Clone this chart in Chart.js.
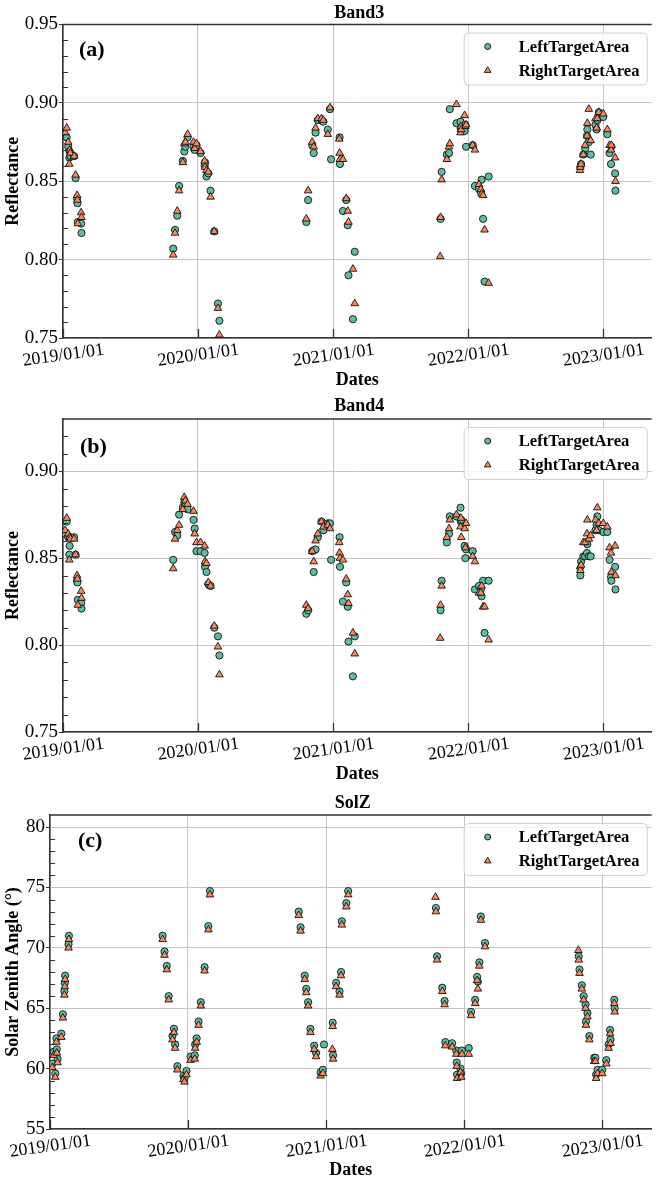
<!DOCTYPE html>
<html><head><meta charset="utf-8">
<script src="https://cdn.jsdelivr.net/npm/chart.js@4.4.1/dist/chart.umd.min.js"></script>
<style>
html,body{margin:0;padding:0;background:#fff;}
#wrap{position:relative;width:657px;height:1182px;overflow:hidden;background:#fff;}
canvas{position:absolute;left:0;}
</style></head><body><div id="wrap">
<canvas id="c1" width="657" height="392" style="top:0px"></canvas>
<canvas id="c2" width="657" height="394" style="top:392px"></canvas>
<canvas id="c3" width="657" height="396" style="top:786px"></canvas>
</div>
<script>
const FONT = '"Liberation Serif", "Times New Roman", serif';

const dates = [
 '2019-01-07','2019-01-11','2019-01-15','2019-01-18','2019-01-19','2019-01-21','2019-01-31','2019-02-04','2019-02-08','2019-02-09','2019-02-10','2019-02-19','2019-02-20',
 '2019-10-26','2019-10-31','2019-11-06','2019-11-11','2019-11-21','2019-11-25','2019-11-28','2019-12-04','2019-12-20','2019-12-23','2019-12-28','2020-01-08','2020-01-19','2020-01-20','2020-01-24','2020-01-29','2020-02-04','2020-02-14','2020-02-24','2020-02-28',
 '2020-10-20','2020-10-25','2020-11-05','2020-11-09','2020-11-14','2020-11-20','2020-11-30','2020-12-05','2020-12-17','2020-12-23','2020-12-26','2021-01-17','2021-01-18','2021-01-19','2021-01-27','2021-02-05','2021-02-09','2021-02-11','2021-02-23','2021-02-28',
 '2021-10-17','2021-10-18','2021-10-21','2021-11-04','2021-11-10','2021-11-12','2021-11-30','2021-12-11','2021-12-12','2021-12-13','2021-12-22','2021-12-24','2021-12-26','2022-01-13','2022-01-19','2022-01-30','2022-02-04','2022-02-06','2022-02-10','2022-02-14','2022-02-25',
 '2022-10-30','2022-10-31','2022-11-02','2022-11-08','2022-11-13','2022-11-18','2022-11-19','2022-11-23','2022-11-28','2022-12-11','2022-12-14','2022-12-16','2022-12-20','2023-01-01','2023-01-12','2023-01-18','2023-01-22','2023-01-23','2023-02-02','2023-02-03'
];

const band3Left = [
 .879,.878,.872,.865,.869,.866,.866,.852,.839,.836,.824,.823,.817,
 .807,.819,.828,.847,.863,.869,.872,.878,.872,.870,.873,.868,.860,.862,.853,.855,.844,.818,.772,.761,
 .824,.838,.873,.868,.881,.889,.889,.888,.883,.896,.864,null,.878,.861,.831,.838,.822,.790,.762,.805,
 null,.826,.856,.867,.868,.896,.887,.888,.884,.882,.882,.886,.872,.873,.847,.845,.843,.851,.826,.786,.853,
 null,.859,.861,.867,.871,.879,.883,.875,.867,.886,.883,.889,.894,.891,.880,.868,.861,.872,.855,.844
];
const band3Right = [
 .881,.884,.875,.861,.870,.868,.866,.854,.841,.838,.823,.830,.827,
 .803,.817,.831,.844,.862,.874,.875,.880,.875,.871,.874,.869,.863,.859,.857,.856,.840,.818,.769,.752,
 .826,.844,.875,.872,.884,.890,.890,.889,.880,.897,null,.877,.868,.864,.864,.839,.831,.824,.794,.772,
 .802,.827,.851,.864,.872,.874,.899,.881,.885,.883,.892,.885,.886,.873,.870,.848,.845,.842,.841,.819,.785,
 .857,.859,.861,.867,.873,.879,.887,.896,.876,.890,.884,.890,.894,.893,.883,.873,.870,.873,.865,.850
];
const band4Left = [
 .864,.871,.862,.852,.857,.862,.862,.852,.837,.836,.826,.824,.821,
 .849,.865,.863,.875,.879,.882,.880,.878,.872,.867,.854,.854,.853,.845,.842,.835,.834,.810,.805,.794,
 .818,.820,.854,.842,.855,.862,.871,.866,.870,.870,.849,null,.862,.845,.825,.836,.822,.802,.782,.805,
 null,.820,.837,.859,.864,.874,.874,.879,.871,.872,.857,.850,.855,.854,.832,.834,.832,.828,.837,.807,.837,
 null,.840,.848,.851,.851,.853,.858,.851,.851,.866,.869,.874,.866,.865,.865,.849,.839,.837,.845,.832
];
const band4Right = [
 .866,.873,.864,.849,.862,.861,.861,.852,.840,.838,.823,.831,.827,
 .844,.861,.866,.869,.878,.885,.883,.881,.877,.864,.859,.859,.857,.848,.847,.836,.834,.811,.799,.783,
 .823,.821,.854,.848,.860,.864,.871,.868,.869,.867,null,.859,.853,.850,.849,.838,.829,.824,.807,.795,
 .804,.823,.834,.862,.867,.872,.875,.868,.873,.862,.867,.856,.870,.851,.848,.830,.830,.834,.822,.822,.803,
 .845,.843,.846,.859,.859,.864,.872,.861,.863,.872,.866,.879,.870,.870,.868,.856,.853,.842,.857,.840
];
const solzLeft = [
 60.4,61.4,59.6,62.5,61.6,60.8,62.9,64.5,66.4,67.1,67.7,70.3,71.0,
 71.0,69.7,68.5,66.0,62.7,63.3,62.0,60.2,59.4,59.2,59.8,61.0,61.1,62.0,62.5,63.9,65.5,68.4,71.8,74.7,
 73.0,71.7,67.7,66.6,65.5,63.3,61.9,61.3,59.7,59.9,62.0,null,63.8,61.1,67.1,66.4,68.0,72.2,73.7,74.7,
 null,73.3,69.3,66.7,65.6,62.2,62.1,61.5,60.5,59.5,60.0,59.6,61.5,61.7,64.7,65.7,67.6,67.2,68.8,72.6,70.4,
 null,69.3,68.2,66.9,66.0,65.3,63.9,64.6,62.7,60.9,60.9,59.5,59.9,59.9,60.7,62.0,63.2,62.4,65.7,65.0
];
const solzRight = [
 60.1,61.1,59.3,62.2,61.3,60.5,62.6,64.2,66.1,66.8,67.4,70.0,70.7,
 70.7,69.4,68.2,65.7,62.4,63.0,61.7,59.9,59.1,58.9,59.5,60.7,60.8,61.7,62.2,63.6,65.2,68.1,71.5,74.4,
 72.7,71.4,67.4,66.3,65.2,63.0,61.6,61.0,59.4,59.6,null,61.6,63.5,60.8,66.8,66.1,67.7,71.9,73.4,74.4,
 74.2,73.0,69.0,66.4,65.3,61.9,61.8,61.2,60.2,59.2,59.7,59.3,61.2,61.2,64.4,65.4,67.3,66.6,68.5,72.3,70.1,
 69.8,69.0,67.9,66.6,65.7,65.0,63.6,64.3,62.4,60.6,60.6,59.2,59.6,59.6,60.4,61.7,62.9,62.1,65.4,64.7
];

const xTickDates = ['2019-01-01','2020-01-01','2021-01-01','2022-01-01','2023-01-01'];
const xTickLabels = ['2019/01/01','2020/01/01','2021/01/01','2022/01/01','2023/01/01'];
const xRange = ['2019-01-01','2023-05-12'];
const seriesNames = ['LeftTargetArea','RightTargetArea'];
const colors = ['#5dbd9e','#f98a5f'];

Chart.defaults.font.family = FONT;
Chart.defaults.color = '#000';

function pts(vals){
  const out = [];
  vals.forEach((v,i)=>{ if (v !== null) out.push({x: Date.parse(dates[i]), y: v}); });
  return out;
}

const AXIS = '#333';
const GRID = '#c4c4c4';

const decoPlugin = {
  id: 'deco',
  afterDraw(chart, args, o) {
    const ctx = chart.ctx, a = chart.chartArea;
    const x = chart.scales.x, y = chart.scales.y;
    ctx.save();
    ctx.strokeStyle = AXIS; ctx.lineWidth = 1.5;
    ctx.beginPath(); ctx.moveTo(a.left - 0.75, a.top); ctx.lineTo(a.right, a.top); ctx.stroke();
    ctx.lineWidth = 1;
    const n = Math.round((y.max - y.min) / o.minor);
    for (let k = 1; k < n; k++) {
      if (k % o.perMajor === 0) continue;
      const py = Math.round(y.getPixelForValue(y.min + k * o.minor)) + 0.5;
      ctx.beginPath(); ctx.moveTo(a.left, py); ctx.lineTo(a.left + 5, py); ctx.stroke();
    }
    ctx.lineWidth = 1.3;
    x.ticks.forEach(t => {
      const px = Math.round(x.getPixelForValue(t.value)) + 0.5;
      ctx.beginPath(); ctx.moveTo(px, a.bottom); ctx.lineTo(px, a.bottom - 9); ctx.stroke();
    });
    ctx.fillStyle = '#000';
    ctx.font = 'bold 18px ' + FONT;
    ctx.textAlign = 'center'; ctx.textBaseline = 'middle';
    ctx.fillText(o.title, (a.left + a.right) / 2 + 2, o.titleY);
    ctx.font = 'bold 22px ' + FONT;
    ctx.textAlign = 'left';
    ctx.fillText(o.letter, a.left + o.letterDx, a.top + o.letterDy);
    const bw = 183, bh = 52;
    const bx = a.right - 5 - bw, by = a.top + 8;
    ctx.beginPath();
    if (ctx.roundRect) ctx.roundRect(bx + 0.5, by + 0.5, bw, bh, 4); else ctx.rect(bx + 0.5, by + 0.5, bw, bh);
    ctx.fillStyle = 'rgba(255,255,255,0.8)'; ctx.fill();
    ctx.strokeStyle = '#d0d0d0'; ctx.lineWidth = 1; ctx.stroke();
    const rows = [by + 14, by + 38];
    const mx = bx + 24;
    ctx.lineWidth = 0.9; ctx.strokeStyle = '#111';
    ctx.beginPath(); ctx.arc(mx, rows[0], 3, 0, Math.PI * 2);
    ctx.fillStyle = colors[0]; ctx.fill(); ctx.stroke();
    const r = 3.8;
    ctx.beginPath();
    ctx.moveTo(mx, rows[1] - r);
    ctx.lineTo(mx + r * Math.sin(Math.PI / 3), rows[1] + r / 2);
    ctx.lineTo(mx - r * Math.sin(Math.PI / 3), rows[1] + r / 2);
    ctx.closePath();
    ctx.fillStyle = colors[1]; ctx.fill(); ctx.stroke();
    ctx.fillStyle = '#000';
    ctx.font = 'bold 16.6px ' + FONT;
    ctx.textAlign = 'left'; ctx.textBaseline = 'middle';
    ctx.fillText(seriesNames[0], bx + 55, rows[0] + 1);
    ctx.fillText(seriesNames[1], bx + 55, rows[1] + 1);
    ctx.restore();
  }
};

function makeChart(id, P) {
  const H = document.getElementById(id).height;
  return new Chart(document.getElementById(id), {
    type: 'scatter',
    data: { datasets: [
      { label: seriesNames[0], data: pts(P.left), pointStyle: 'circle', pointRadius: 3.6, pointHoverRadius: 3.6,
        backgroundColor: colors[0], borderColor: '#111', borderWidth: 0.9, order: 2 },
      { label: seriesNames[1], data: pts(P.right), pointStyle: 'triangle', pointRadius: 4.4, pointHoverRadius: 4.4,
        backgroundColor: colors[1], borderColor: '#111', borderWidth: 0.9, order: 1 }
    ]},
    options: {
      responsive: false, animation: false, devicePixelRatio: 1,
      layout: { padding: { top: P.top, right: 1, bottom: 0, left: 0 } },
      plugins: {
        legend: { display: false }, tooltip: { enabled: false }, title: { display: false },
        deco: { title: P.title, titleY: P.titleY, letter: P.letter, letterDx: P.letterDx, letterDy: P.letterDy,
                minor: P.minor, perMajor: 5 }
      },
      scales: {
        x: {
          type: 'linear',
          min: Date.parse(xRange[0]), max: Date.parse(xRange[1]),
          afterBuildTicks: s => { s.ticks = xTickDates.map(d => ({ value: Date.parse(d) })); },
          afterFit: s => { s.height = H - P.bottom; s.paddingLeft = 0; s.paddingRight = 0; },
          ticks: { autoSkip: false, minRotation: 8, maxRotation: 8, labelOffset: 41, padding: 1,
                   font: { size: 18, family: FONT }, color: '#000',
                   callback: (v, i) => xTickLabels[i] },
          grid: { color: GRID, lineWidth: 1, drawTicks: false },
          border: { display: true, color: AXIS, width: 1.5 },
          title: { display: true, text: 'Dates', color: '#000', font: { size: 18, weight: 'bold', family: FONT },
                   padding: { top: 0, bottom: 1 } }
        },
        y: {
          min: P.ymin, max: P.ymax,
          afterFit: s => { s.width = P.leftW; s.paddingTop = 0; s.paddingBottom = 0; },
          ticks: { stepSize: P.step, includeBounds: false, padding: 1,
                   font: { size: 19, family: FONT }, color: '#000',
                   callback: v => Number(v).toFixed(P.dec) },
          grid: { color: GRID, lineWidth: 1, drawTicks: true, tickLength: 4, tickColor: AXIS, tickWidth: 1 },
          border: { display: true, color: AXIS, width: 1.5 },
          title: { display: true, text: P.ytitle, color: '#000', font: { size: 18, weight: 'bold', family: FONT },
                   padding: { top: 3, bottom: 0 } }
        }
      }
    },
    plugins: [decoPlugin]
  });
}

makeChart('c1', { left: band3Left, right: band3Right, top: 24.5, bottom: 338, leftW: 63,
  ymin: 0.75, ymax: 0.95, step: 0.05, dec: 2, minor: 0.01, title: 'Band3', titleY: 13,
  letter: '(a)', letterDx: 16, letterDy: 26, ytitle: 'Reflectance' });
makeChart('c2', { left: band4Left, right: band4Right, top: 27, bottom: 340, leftW: 63,
  ymin: 0.75, ymax: 0.93, step: 0.05, dec: 2, minor: 0.01, title: 'Band4', titleY: 14.7,
  letter: '(b)', letterDx: 17, letterDy: 28, ytitle: 'Reflectance' });
makeChart('c3', { left: solzLeft, right: solzRight, top: 29, bottom: 343, leftW: 50,
  ymin: 55, ymax: 81, step: 5, dec: 0, minor: 1, title: 'SolZ', titleY: 17,
  letter: '(c)', letterDx: 28, letterDy: 26.5, ytitle: 'Solar Zenith Angle (°)' });
</script>
</body></html>
